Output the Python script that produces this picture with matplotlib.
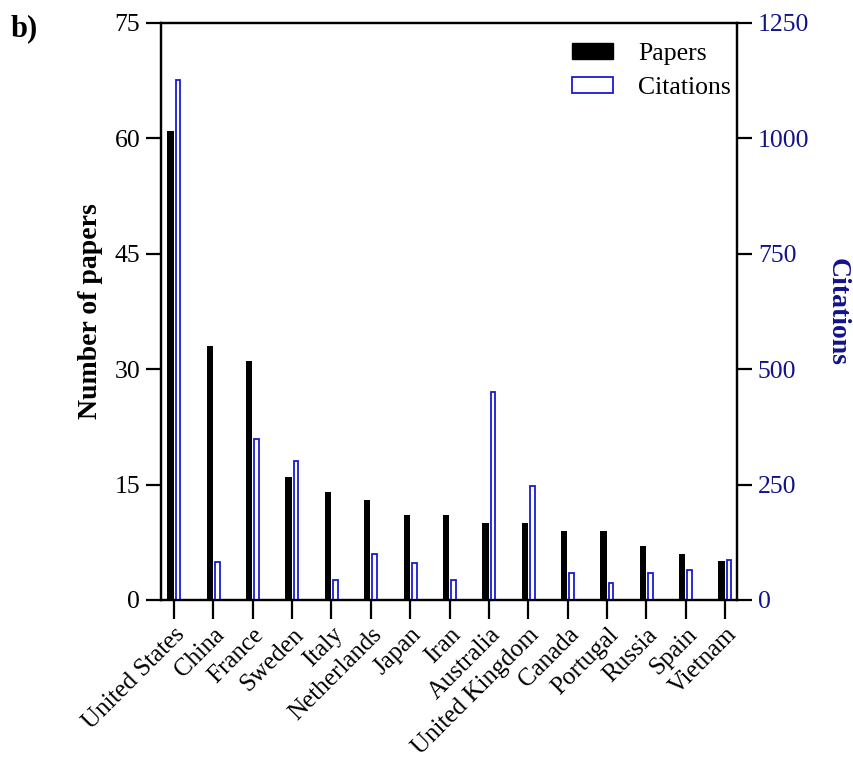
import numpy as np
import matplotlib.pyplot as plt
from matplotlib.patches import Patch

plt.rcParams["font.family"] = ["Liberation Serif", "DejaVu Serif"]
plt.rcParams["font.size"] = 18.5

countries = ["United States", "China", "France", "Sweden", "Italy", "Netherlands",
             "Japan", "Iran", "Australia", "United Kingdom", "Canada", "Portugal",
             "Russia", "Spain", "Vietnam"]
papers = [61, 33, 31, 16, 14, 13, 11, 11, 10, 10, 9, 9, 7, 6, 5]
citations = [1127, 83, 349, 300, 43, 99, 80, 43, 450, 247, 59, 36, 58, 66, 86]

navy = "#12128a"
blue = "#1a1ad6"

fig = plt.figure(figsize=(8.54, 7.64), dpi=100)
ax = fig.add_axes([0.1885, 0.2147, 0.6745, 0.7553])
ax2 = ax.twinx()

x = np.arange(len(countries))
ax.bar(x - 0.09, papers, 0.16, color="black")
ax2.bar(x + 0.10, citations, 0.12, facecolor="white", edgecolor=blue, linewidth=1.3)

ax.set_xlim(-0.33, len(countries) - 0.7)
ax.set_ylim(0, 75)
ax.set_yticks([0, 15, 30, 45, 60, 75])
ax2.set_ylim(0, 1250)
ax2.set_yticks([0, 250, 500, 750, 1000, 1250])

ax.set_xticks(x)
ax.set_xticklabels(countries, rotation=45, ha="right", rotation_mode="anchor", fontsize=18)

for a in (ax, ax2):
    for s in a.spines.values():
        s.set_linewidth(1.6)
ax.tick_params(axis="y", direction="out", length=11, width=1.6, pad=4)
ax.tick_params(axis="x", direction="out", length=14, width=1.6, pad=3)
ax2.tick_params(axis="y", direction="out", length=11, width=1.6, pad=4, labelcolor=navy)

ax.set_ylabel("Number of papers", fontweight="bold", fontsize=20, labelpad=8)
ax2.set_ylabel("Citations", fontweight="bold", fontsize=20, color=navy,
               rotation=270, labelpad=29)

handles = [Patch(facecolor="black", edgecolor="black"),
           Patch(facecolor="white", edgecolor=blue, linewidth=1.3)]
ax.legend(handles, ["Papers", "Citations"], loc="upper right", frameon=False,
          fontsize=18.5, handlelength=1.6, handleheight=0.6, handletextpad=1.0,
          labelspacing=0.45, borderaxespad=0, borderpad=0,
          bbox_to_anchor=(0.99, 0.965))

fig.text(0.012, 0.952, "b)", fontsize=22, fontweight="bold")

fig.savefig("out.png", dpi=100)
